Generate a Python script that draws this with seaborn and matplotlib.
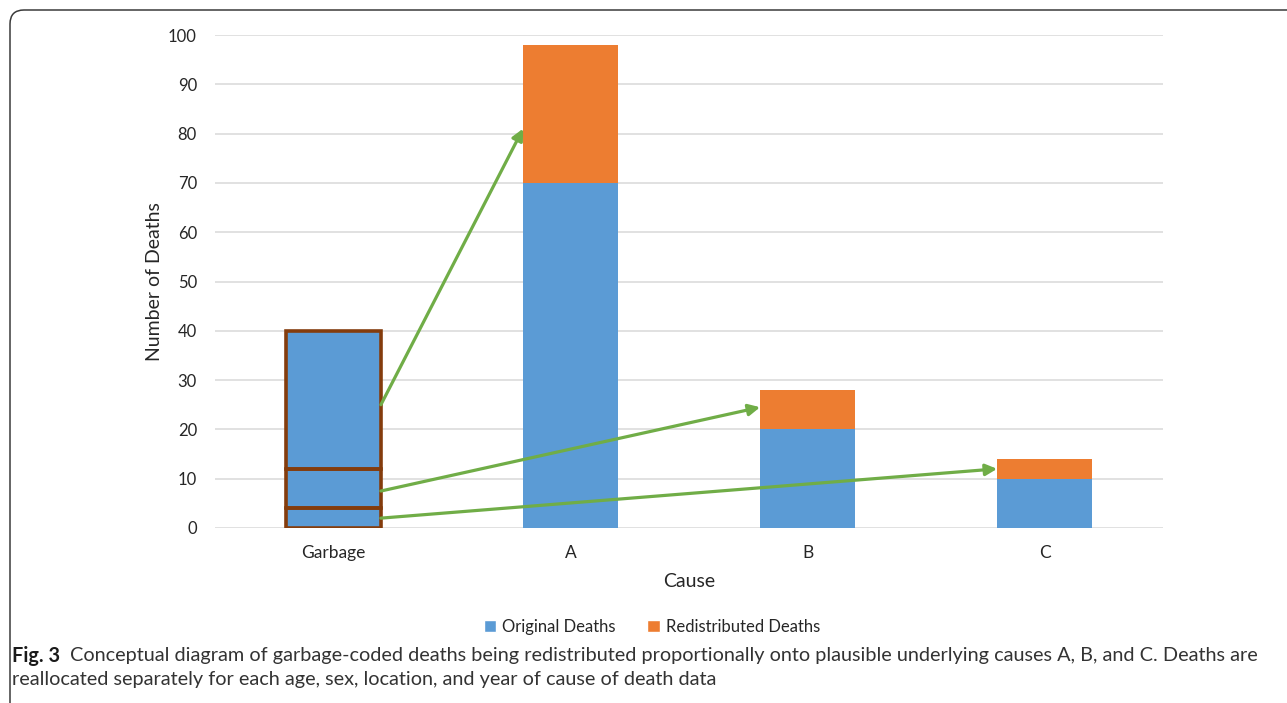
import matplotlib
matplotlib.use("Agg")
import matplotlib.pyplot as plt
import matplotlib.transforms as mtransforms
from matplotlib.patches import FancyBboxPatch, Patch
import seaborn as sns
import pandas as pd

# ---- data ----
causes = ["Garbage", "A", "B", "C"]
original_deaths = [40, 70, 20, 10]
redistributed_deaths = [0, 28, 8, 4]
# garbage-coded deaths split by target cause (stacked bottom-up: C, B, A)
garbage_split_causes = ["C", "B", "A"]
garbage_split_values = [4, 8, 28]
# arrow anchor heights (start on the garbage bar, end on the target bar)
arrow_start_y = [2, 7.5, 25]
arrow_end_y = [12, 24.5, 81]
y_ticks = list(range(0, 101, 10))

BLUE = "#5B9BD5"
ORANGE = "#ED7D31"
BROWN = "#843C0C"
GREEN = "#70AD47"
GRID = "#D9D9D9"
TEXT = "#262626"

sns.set_theme(style="white")
plt.rcParams["font.family"] = ["Lato", "DejaVu Sans"]

df = pd.DataFrame({
    "cause": causes,
    "original": original_deaths,
    "redistributed": redistributed_deaths,
})
df["total"] = df["original"] + df["redistributed"]

fig = plt.figure(figsize=(12.87, 7.03), dpi=100)
ax = fig.add_axes([215 / 1287, 1 - 528 / 703, (1163 - 215) / 1287, (528 - 35) / 703])

bar_w = 0.4
sns.barplot(data=df, x="cause", y="total", color=ORANGE, saturation=1,
            width=bar_w, ax=ax, linewidth=0, zorder=2)
sns.barplot(data=df, x="cause", y="original", color=BLUE, saturation=1,
            width=bar_w, ax=ax, linewidth=0, zorder=3)

# outline the garbage bar segments
bottom = 0
for v in garbage_split_values:
    ax.bar(0, v, bottom=bottom, width=bar_w, fill=False, edgecolor=BROWN,
           linewidth=2.6, zorder=4)
    bottom += v

# redistribution arrows from garbage segments to target causes
x_pos = {c: i for i, c in enumerate(causes)}
for tgt, y0, y1 in zip(garbage_split_causes, arrow_start_y, arrow_end_y):
    x0 = x_pos["Garbage"] + bar_w / 2
    x1 = x_pos[tgt] - bar_w / 2
    ax.annotate("", xy=(x1, y1), xytext=(x0, y0),
                arrowprops=dict(arrowstyle="-|>", color=GREEN, lw=2.3,
                                mutation_scale=17, shrinkA=0, shrinkB=0),
                zorder=5)

ax.set_xlim(-0.5, 3.5)
ax.set_ylim(0, 100)
ax.set_yticks(y_ticks)
ax.yaxis.grid(True, color=GRID, linewidth=1.1, zorder=0)
ax.set_axisbelow(True)
for s in ax.spines.values():
    s.set_visible(False)
ax.tick_params(axis="y", length=0, pad=13, labelsize=12, labelcolor=TEXT)
ax.tick_params(axis="x", length=0, pad=12, labelsize=12.5, labelcolor=TEXT)
ax.set_xlabel("Cause", fontsize=14, color=TEXT, labelpad=9)
ax.set_ylabel("Number of Deaths", fontsize=14, color=TEXT, labelpad=4)

handles = [Patch(facecolor=BLUE, label="Original Deaths"),
           Patch(facecolor=ORANGE, label="Redistributed Deaths")]
fig.legend(handles=handles, loc="center", bbox_to_anchor=(652 / 1287, 1 - 627 / 703),
           ncol=2, frameon=False, fontsize=12, handlelength=0.75, handleheight=0.75,
           handletextpad=0.35, columnspacing=1.9, labelcolor=TEXT)

# figure frame (rounded top-left corner)
frame = FancyBboxPatch((10, -30), 1400, 703 - 10 + 30,
                       boxstyle="round,pad=0,rounding_size=14",
                       transform=mtransforms.IdentityTransform(),
                       facecolor="none", edgecolor="#3A3A3A", linewidth=1.1)
fig.patches.append(frame)

# caption
cap_font = ["Lato", "DejaVu Sans"]
cap_size = 14.3
y1 = 1 - 656 / 703
y2 = 1 - 680 / 703
t_bold = fig.text(12 / 1287, y1, "Fig. 3", fontsize=cap_size, fontweight="bold",
                  family=cap_font, color="#1a1a1a", va="center", ha="left")
fig.canvas.draw()
bb = t_bold.get_window_extent(renderer=fig.canvas.get_renderer())
fig.text((bb.x1 + 10) / 1287, y1,
         "Conceptual diagram of garbage-coded deaths being redistributed proportionally onto "
         "plausible underlying causes A, B, and C. Deaths are",
         fontsize=cap_size, family=cap_font, color="#333333", va="center", ha="left")
fig.text(12 / 1287, y2,
         "reallocated separately for each age, sex, location, and year of cause of death data",
         fontsize=cap_size, family=cap_font, color="#333333", va="center", ha="left")

fig.savefig("out.png", dpi=100)
